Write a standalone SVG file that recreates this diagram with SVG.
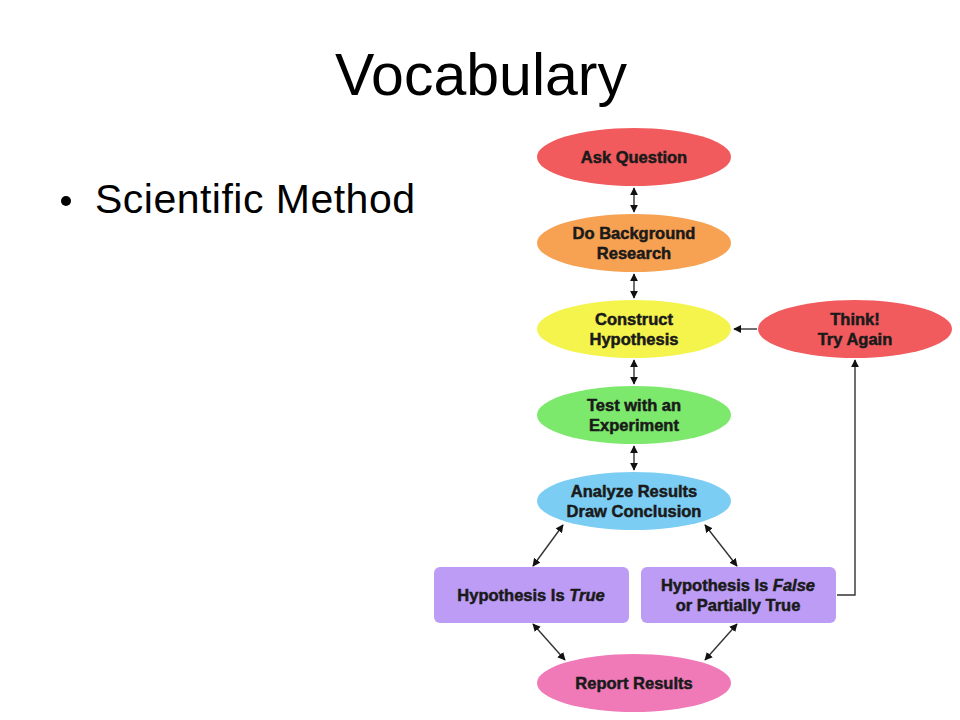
<svg xmlns="http://www.w3.org/2000/svg" width="960" height="720" viewBox="0 0 960 720">
<style>
.t{font-family:"Liberation Sans",Arial,sans-serif;fill:#000}
.n{font-family:"Liberation Sans",Arial,sans-serif;font-weight:bold;font-size:16.5px;fill:#1a1a1a;stroke:#1a1a1a;stroke-width:0.5;text-anchor:middle}
.c{stroke:#333;stroke-width:1.4;fill:none}
</style>
<defs>
<marker id="ah" viewBox="0 0 10 10" refX="9" refY="5" markerWidth="8" markerHeight="8" orient="auto-start-reverse" markerUnits="userSpaceOnUse">
<path d="M0,0 L10,5 L0,10 z" fill="#111"/>
</marker>
</defs>
<rect width="960" height="720" fill="#fff"/>
<text class="t" x="481" y="95" font-size="59" text-anchor="middle" textLength="292">Vocabulary</text>
<circle cx="66" cy="201" r="5" fill="#000"/>
<text class="t" x="95" y="213" font-size="41" textLength="320">Scientific Method</text>

<g id="connectors">
<line class="c" x1="634" y1="188" x2="634" y2="212" marker-start="url(#ah)" marker-end="url(#ah)"/>
<line class="c" x1="634" y1="274" x2="634" y2="298" marker-start="url(#ah)" marker-end="url(#ah)"/>
<line class="c" x1="634" y1="360" x2="634" y2="384" marker-start="url(#ah)" marker-end="url(#ah)"/>
<line class="c" x1="634" y1="446" x2="634" y2="470" marker-start="url(#ah)" marker-end="url(#ah)"/>
<line class="c" x1="757" y1="329" x2="734" y2="329" marker-end="url(#ah)"/>
<polyline class="c" points="837,595 855,595 855,360" marker-end="url(#ah)"/>
<line class="c" x1="563" y1="525" x2="533" y2="566" marker-start="url(#ah)" marker-end="url(#ah)"/>
<line class="c" x1="705" y1="525" x2="737" y2="566" marker-start="url(#ah)" marker-end="url(#ah)"/>
<line class="c" x1="533" y1="624" x2="565" y2="660" marker-start="url(#ah)" marker-end="url(#ah)"/>
<line class="c" x1="737" y1="624" x2="705" y2="660" marker-start="url(#ah)" marker-end="url(#ah)"/>
</g>

<g id="ask">
<ellipse cx="634" cy="157" rx="97" ry="29" fill="#f15b5e"/>
<text class="n" x="634" y="163">Ask Question</text>
</g>
<g id="background">
<ellipse cx="634" cy="243" rx="97" ry="29" fill="#f7a153"/>
<text class="n" x="634" y="239">Do Background</text>
<text class="n" x="634" y="259">Research</text>
</g>
<g id="hypothesis">
<ellipse cx="634" cy="329" rx="97" ry="29" fill="#f4f44c"/>
<text class="n" x="634" y="325">Construct</text>
<text class="n" x="634" y="345">Hypothesis</text>
</g>
<g id="think">
<ellipse cx="855" cy="329" rx="97" ry="29" fill="#f15b5e"/>
<text class="n" x="855" y="325">Think!</text>
<text class="n" x="855" y="345">Try Again</text>
</g>
<g id="test">
<ellipse cx="634" cy="415" rx="97" ry="29" fill="#7ce86c"/>
<text class="n" x="634" y="411">Test with an</text>
<text class="n" x="634" y="431">Experiment</text>
</g>
<g id="analyze">
<ellipse cx="634" cy="501" rx="97" ry="29" fill="#7ccdf3"/>
<text class="n" x="634" y="497">Analyze Results</text>
<text class="n" x="634" y="517">Draw Conclusion</text>
</g>
<g id="true">
<rect x="434" y="567" width="195" height="56" rx="6" fill="#bd9cf5"/>
<text class="n" x="531" y="601">Hypothesis Is <tspan font-style="italic">True</tspan></text>
</g>
<g id="false">
<rect x="641" y="567" width="195" height="56" rx="6" fill="#bd9cf5"/>
<text class="n" x="738" y="591">Hypothesis Is <tspan font-style="italic">False</tspan></text>
<text class="n" x="738" y="611">or Partially True</text>
</g>
<g id="report">
<ellipse cx="634" cy="683" rx="97" ry="29" fill="#f07ab8"/>
<text class="n" x="634" y="689">Report Results</text>
</g>
</svg>
